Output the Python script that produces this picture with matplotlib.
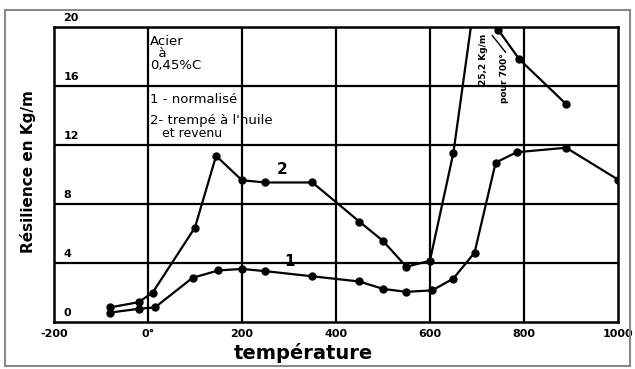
import matplotlib.pyplot as plt
from matplotlib.patches import Rectangle

# courbe 1 - normalise
temp1 = [-80, -20, 15, 95, 150, 200, 250, 350, 450, 500, 550, 605, 650, 695, 740, 785, 890, 1000]
res1 = [0.65, 0.9, 1.0, 3.0, 3.5, 3.6, 3.45, 3.1, 2.75, 2.25, 2.05, 2.15, 2.95, 4.7, 10.8, 11.5, 11.8, 9.65]

# courbe 2 - trempe a l'huile et revenu
temp2 = [-80, -20, 10, 100, 145, 200, 250, 350, 450, 500, 550, 600, 650, 710, 745, 790, 890]
res2 = [1.0, 1.35, 2.0, 6.4, 11.25, 9.6, 9.45, 9.45, 6.8, 5.5, 3.75, 4.15, 11.45, 25.2, 19.8, 17.8, 14.75]

xticks = [-200, 0, 200, 400, 600, 800, 1000]
xlabels = ['-200', '0°', '200', '400', '600', '800', '1000']
yticks = [0, 4, 8, 12, 16, 20]

fig = plt.figure(figsize=(6.35, 3.69), dpi=100)
ax = fig.add_axes([0.085, 0.127, 0.888, 0.801])

# cadre gris autour de l'image
fig.patches.append(Rectangle((0.008, 0.008), 0.984, 0.966, transform=fig.transFigure,
                             fill=False, edgecolor='#888888', linewidth=1.5))

ax.set_xlim(-200, 1000)
ax.set_ylim(0, 20)
for s in ax.spines.values():
    s.set_linewidth(1.8)
for x in xticks[1:-1]:
    ax.axvline(x, color='black', lw=1.6, zorder=1)
for y in yticks[1:-1]:
    ax.axhline(y, color='black', lw=1.6, zorder=1)

ax.plot(temp1, res1, color='black', lw=1.6, marker='o', ms=5, zorder=3)
ax.plot(temp2, res2, color='black', lw=1.6, marker='o', ms=5, zorder=3)

ax.set_xticks(xticks)
ax.set_xticklabels(xlabels, fontsize=8, fontweight='bold')
ax.set_yticks([])
ax.tick_params(axis='x', length=0, pad=5)
for y in yticks:
    ax.text(-180, y + 0.25, str(y), fontsize=8, fontweight='bold', va='bottom', ha='left', clip_on=False)

fig.text(303 / 635, 1 - 353 / 369, 'température', fontsize=14, fontweight='bold',
         ha='center', va='center')
fig.text(28 / 635, 1 - 172 / 369, 'Résilience en Kg/m', rotation=90, fontsize=11, fontweight='bold',
         ha='center', va='center')

# legende manuscrite
ax.text(5, 19.4, 'Acier\n  à\n0,45%C', fontsize=9.5, va='top', ha='left', linespacing=0.9)
ax.text(5, 15.5, '1 - normalisé', fontsize=9.5, va='top', ha='left')
ax.text(5, 14.1, '2- trempé à l\'huile', fontsize=9.5, va='top', ha='left')
ax.text(30, 13.2, 'et revenu', fontsize=9, va='top', ha='left')

ax.text(290, 3.8, '1', fontsize=11, fontweight='bold')
ax.text(275, 10.0, '2', fontsize=11, fontweight='bold')

ax.text(715, 17.8, '25,2 Kg/m', rotation=90, fontsize=6.5, ha='center', va='center', fontweight='bold')
ax.text(758, 16.5, 'pour 700°', rotation=90, fontsize=6.5, ha='center', va='center', fontweight='bold')
ax.annotate('', xy=(765, 18.1), xytext=(729, 19.55),
            arrowprops=dict(arrowstyle='-', lw=1, color='black'))

fig.savefig('out.png', dpi=100)
